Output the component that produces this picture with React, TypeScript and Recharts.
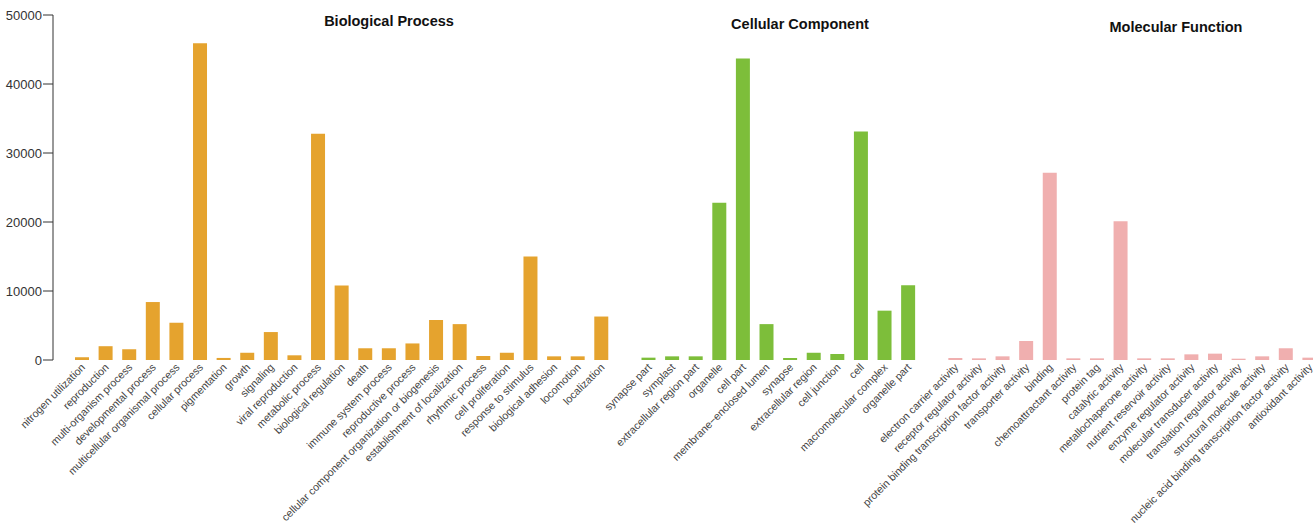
import { BarChart, Bar, XAxis, YAxis, Cell } from 'recharts'

const bpNames = [
  'nitrogen utilization', 'reproduction', 'multi-organism process', 'developmental process',
  'multicellular organismal process', 'cellular process', 'pigmentation', 'growth', 'signaling',
  'viral reproduction', 'metabolic process', 'biological regulation', 'death',
  'immune system process', 'reproductive process', 'cellular component organization or biogenesis',
  'establishment of localization', 'rhythmic process', 'cell proliferation', 'response to stimulus',
  'biological adhesion', 'locomotion', 'localization',
]
const bpValues = [
  400, 2000, 1550, 8400, 5400, 45900, 300, 1050, 4050, 680, 32800, 10800, 1700,
  1700, 2400, 5800, 5200, 580, 1050, 15000, 530, 530, 6300,
]

const ccNames = [
  'synapse part', 'symplast', 'extracellular region part', 'organelle', 'cell part',
  'membrane−enclosed lumen', 'synapse', 'extracellular region', 'cell junction', 'cell',
  'macromolecular complex', 'organelle part',
]
const ccValues = [340, 530, 530, 22800, 43700, 5200, 290, 1050, 870, 33100, 7150, 10850]

const mfNames = [
  'electron carrier activity', 'receptor regulator activity',
  'protein binding transcription factor activity', 'transporter activity', 'binding',
  'chemoattractant activity', 'protein tag', 'catalytic activity', 'metallochaperone activity',
  'nutrient reservoir activity', 'enzyme regulator activity', 'molecular transducer activity',
  'translation regulator activity', 'structural molecule activity',
  'nucleic acid binding transcription factor activity', 'antioxidant activity',
]
const mfValues = [290, 240, 530, 2750, 27150, 240, 240, 20100, 240, 240, 820, 920, 190, 530, 1700, 340]

const yTicks = [0, 10000, 20000, 30000, 40000, 50000]

const colors: Record<string, string> = { bp: '#E5A32E', cc: '#7DBE3A', mf: '#F0AFAF', gap: 'none' }

const titles = [
  { text: 'Biological Process', x: 389, y: 21 },
  { text: 'Cellular Component', x: 800, y: 24 },
  { text: 'Molecular Function', x: 1176, y: 27 },
]

const rows = [
  ...bpNames.map((name, i) => ({ name, value: bpValues[i], group: 'bp' })),
  { name: '', value: null, group: 'gap' },
  ...ccNames.map((name, i) => ({ name, value: ccValues[i], group: 'cc' })),
  { name: ' ', value: null, group: 'gap' },
  ...mfNames.map((name, i) => ({ name, value: mfValues[i], group: 'mf' })),
]

const FONT = '"Liberation Sans", Arial, Helvetica, sans-serif'

function AngledTick(props: any) {
  const { x, y, payload } = props
  const px = x + 4
  return (
    <text
      x={px}
      y={y}
      textAnchor="end"
      transform={`rotate(-45, ${px}, ${y})`}
      fontSize={10.7}
      fill="#444"
      fontFamily={FONT}
    >
      {payload.value}
    </text>
  )
}

export default function App() {
  return (
    <div
      style={{
        position: 'fixed', left: 0, top: 0, width: 1313, height: 527,
        overflow: 'hidden', background: '#fff', fontFamily: FONT,
      }}
    >
      <BarChart
        width={1322}
        height={527}
        data={rows}
        margin={{ top: 15, right: 1, left: 0, bottom: 0 }}
      >
        <XAxis
          dataKey="name"
          interval={0}
          height={167}
          axisLine={false}
          tickLine={false}
          tick={<AngledTick />}
          padding={{ left: 17, right: 0 }}
        />
        <YAxis
          domain={[0, 50000]}
          ticks={yTicks}
          width={53}
          tickSize={10}
          tickMargin={1}
          axisLine={{ stroke: '#333' }}
          tickLine={{ stroke: '#333' }}
          tick={{ fill: '#333', fontSize: 13, fontFamily: FONT }}
        />
        <Bar dataKey="value" barSize={14} isAnimationActive={false}>
          {rows.map((r, i) => (
            <Cell key={i} fill={colors[r.group]} />
          ))}
        </Bar>
      </BarChart>
      {titles.map((t) => (
        <div
          key={t.text}
          style={{
            position: 'absolute', left: t.x, top: t.y, transform: 'translate(-50%, -50%)',
            fontWeight: 'bold', fontSize: 14.5, color: '#111', whiteSpace: 'nowrap',
          }}
        >
          {t.text}
        </div>
      ))}
    </div>
  )
}
